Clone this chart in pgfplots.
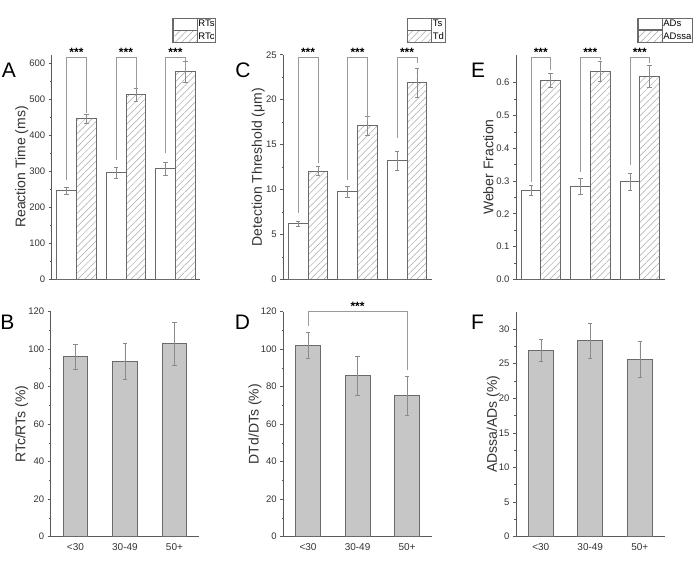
\documentclass[border=0pt]{standalone}
\usepackage{fontspec}
\setmainfont{Liberation Sans}
\usepackage{pgfplots}
\pgfplotsset{compat=1.18}
\usetikzlibrary{patterns.meta}
\definecolor{axisgray}{HTML}{5A5A5A}
\definecolor{bargray}{HTML}{6A6A6A}
\definecolor{hatchgray}{HTML}{A8A8A8}
\definecolor{errgray}{HTML}{8A8A8A}
\definecolor{brgray}{HTML}{9A9A9A}
\definecolor{fillgray}{HTML}{C6C6C6}
\definecolor{txtgray}{HTML}{333333}
\pgfplotsset{
 panel/.style={scale only axis, width=148.5pt, xmin=0.5, xmax=3.5, ymin=0, clip=false, anchor=south west,
   axis x line*=bottom, axis y line*=left,
   axis line style={draw=axisgray, line width=0.8pt},
   tick align=outside, major tick length=3pt, minor tick length=1.8pt,
   every tick/.style={draw=axisgray, line width=0.6pt},
   minor y tick num=1,
   ticklabel style={font=\fontsize{9.5}{11}\selectfont, text=txtgray},
   xticklabel style={font=\fontsize{10}{11}\selectfont},
   /pgf/number format/assume math mode=true,
   label style={font=\fontsize{14}{16}\selectfont, text=txtgray},
 },
 top/.style={panel, height=224.5pt, xtick=\empty,
   legend image code/.code={\draw[##1] (0pt,-5.5pt) rectangle (24pt,6pt);},
   legend style={anchor=north west, draw=bargray, line width=0.5pt, font=\fontsize{9.5}{10}\selectfont,
     inner sep=0pt, row sep=0pt, cells={anchor=west}, nodes={inner sep=1pt}},
 },
 bottom/.style={panel, height=225pt, xtick={1,2,3}, xticklabels={{<30},{30-49},{50+}}, major x tick style={draw=none}},
 errb/.style={/pgfplots/error bars/y dir=both, /pgfplots/error bars/y explicit,
   /pgfplots/error bars/error bar style={draw=errgray, line width=0.5pt},
   /pgfplots/error bars/error mark options={draw=errgray, line width=0.5pt, mark size=2.2pt, rotate=90}},
 wbar/.style={ybar, bar width=0.4, bar shift=0pt, draw=bargray, fill=white, line width=0.8pt, errb},
 hbar/.style={ybar, bar width=0.4, bar shift=0pt, draw=bargray, pattern={Lines[angle=45,distance=4.7pt,line width=0.5pt]}, pattern color=hatchgray, line width=0.8pt, errb},
 gbar/.style={ybar, bar width=0.5, bar shift=0pt, draw=bargray, fill=fillgray, line width=0.8pt, errb},
 brk/.style={draw=brgray, line width=0.6pt, forget plot, mark=none, sharp plot},
}
\newcommand{\stars}{\fontsize{12}{12}\selectfont\bfseries ***}
\begin{document}
\begin{tikzpicture}
\path[use as bounding box] (0,0) rectangle (700pt,583pt);
% ---------- A ----------
\begin{axis}[top, at={(51.7pt,303.7pt)}, ymax=624, ytick={0,100,200,300,400,500,600},
  ylabel={Reaction Time (ms)}, ylabel style={at={(axis description cs:-0.202,0.5)}, anchor=center},
  legend style={at={(axis description cs:0.812,1.165)}}]
\addplot[wbar] coordinates {(0.8,246) +- (0,10) (1.8,296) +- (0,16) (2.8,307) +- (0,17)};
\addplot[hbar] coordinates {(1.2,447) +- (0,12) (2.2,513) +- (0,18) (3.2,577) +- (0,30)};
\legend{RTs,RTc}
\addplot[brk] coordinates {(0.8,276) (0.8,617) (1.2,617) (1.2,461)};
\addplot[brk] coordinates {(1.8,331) (1.8,617) (2.2,617) (2.2,530)};
\addplot[brk] coordinates {(2.8,350) (2.8,617) (3.2,617) (3.2,580)};
\node at (axis cs:1,630) {\stars};
\node at (axis cs:2,630) {\stars};
\node at (axis cs:3,630) {\stars};
\end{axis}
% ---------- C ----------
\begin{axis}[top, at={(283.3pt,303.7pt)}, ymax=25, ytick={0,5,10,15,20,25},
  ylabel={Detection Threshold (μm)}, ylabel style={at={(axis description cs:-0.168,0.5)}, anchor=center},
  legend style={at={(axis description cs:0.831,1.165)}}]
\addplot[wbar] coordinates {(0.8,6.2) +- (0,0.3) (1.8,9.75) +- (0,0.65) (2.8,13.2) +- (0,1.05)};
\addplot[hbar] coordinates {(1.2,12.05) +- (0,0.5) (2.2,17.1) +- (0,1.05) (3.2,21.9) +- (0,1.6)};
\legend{Ts,Td}
\addplot[brk] coordinates {(0.8,7.4) (0.8,24.74) (1.2,24.74) (1.2,12.9)};
\addplot[brk] coordinates {(1.8,11.1) (1.8,24.74) (2.2,24.74) (2.2,17.6)};
\addplot[brk] coordinates {(2.8,15.7) (2.8,24.74) (3.2,24.74) (3.2,24.1)};
\node at (axis cs:1,25.3) {\stars};
\node at (axis cs:2,25.3) {\stars};
\node at (axis cs:3,25.3) {\stars};
\end{axis}
% ---------- E ----------
\begin{axis}[top, at={(516pt,303.7pt)}, ymax=0.685, ytick={0,0.1,0.2,0.3,0.4,0.5,0.6},
  yticklabel style={/pgf/number format/.cd, fixed, fixed zerofill, precision=1},
  ylabel={Weber Fraction}, ylabel style={at={(axis description cs:-0.186,0.5)}, anchor=center},
  legend style={at={(axis description cs:0.817,1.165)}}]
\addplot[wbar] coordinates {(0.8,0.272) +- (0,0.015) (1.8,0.284) +- (0,0.025) (2.8,0.299) +- (0,0.026)};
\addplot[hbar] coordinates {(1.2,0.607) +- (0,0.021) (2.2,0.634) +- (0,0.03) (3.2,0.620) +- (0,0.033)};
\legend{ADs,ADssa}
\addplot[brk] coordinates {(0.8,0.298) (0.8,0.677) (1.2,0.677) (1.2,0.639)};
\addplot[brk] coordinates {(1.8,0.328) (1.8,0.677) (2.2,0.677) (2.2,0.669)};
\addplot[brk] coordinates {(2.8,0.349) (2.8,0.677) (3.2,0.677) (3.2,0.659)};
\node at (axis cs:1,0.693) {\stars};
\node at (axis cs:2,0.693) {\stars};
\node at (axis cs:3,0.693) {\stars};
\end{axis}
% ---------- B ----------
\begin{axis}[bottom, at={(50.7pt,46.3pt)}, ymax=120, ytick={0,20,40,60,80,100,120},
  ylabel={RTc/RTs (\%)}, ylabel style={at={(axis description cs:-0.195,0.5)}, anchor=center}]
\addplot[gbar] coordinates {(1,96.2) +- (0,6.7) (2,93.6) +- (0,9.8) (3,103.1) +- (0,11.5)};
\end{axis}
% ---------- D ----------
\begin{axis}[bottom, at={(283.3pt,46.3pt)}, ymax=120, ytick={0,20,40,60,80,100,120},
  ylabel={DTd/DTs (\%)}, ylabel style={at={(axis description cs:-0.19,0.5)}, anchor=center}]
\addplot[gbar] coordinates {(1,102.2) +- (0,6.8) (2,85.9) +- (0,10.2) (3,75.2) +- (0,10.6)};
\addplot[brk] coordinates {(1,112.4) (1,120) (3,120) (3,88.9)};
\node at (axis cs:2,123) {\stars};
\end{axis}
% ---------- F ----------
\begin{axis}[bottom, at={(516pt,46.3pt)}, ymax=32.5, ytick={0,5,10,15,20,25,30},
  ylabel={ADssa/ADs (\%)}, ylabel style={at={(axis description cs:-0.153,0.5)}, anchor=center}]
\addplot[gbar] coordinates {(1,26.9) +- (0,1.6) (2,28.3) +- (0,2.5) (3,25.6) +- (0,2.6)};
\end{axis}
% panel letters
\begin{scope}[every node/.style={font=\fontsize{21}{24}\selectfont, text=black, inner sep=0pt}]
\node at (9pt,512.5pt) {A};
\node at (243pt,512.5pt) {C};
\node at (478pt,512.5pt) {E};
\node at (7.5pt,260.5pt) {B};
\node at (242.5pt,260.5pt) {D};
\node at (477.5pt,260.5pt) {F};
\end{scope}
\end{tikzpicture}
\end{document}
